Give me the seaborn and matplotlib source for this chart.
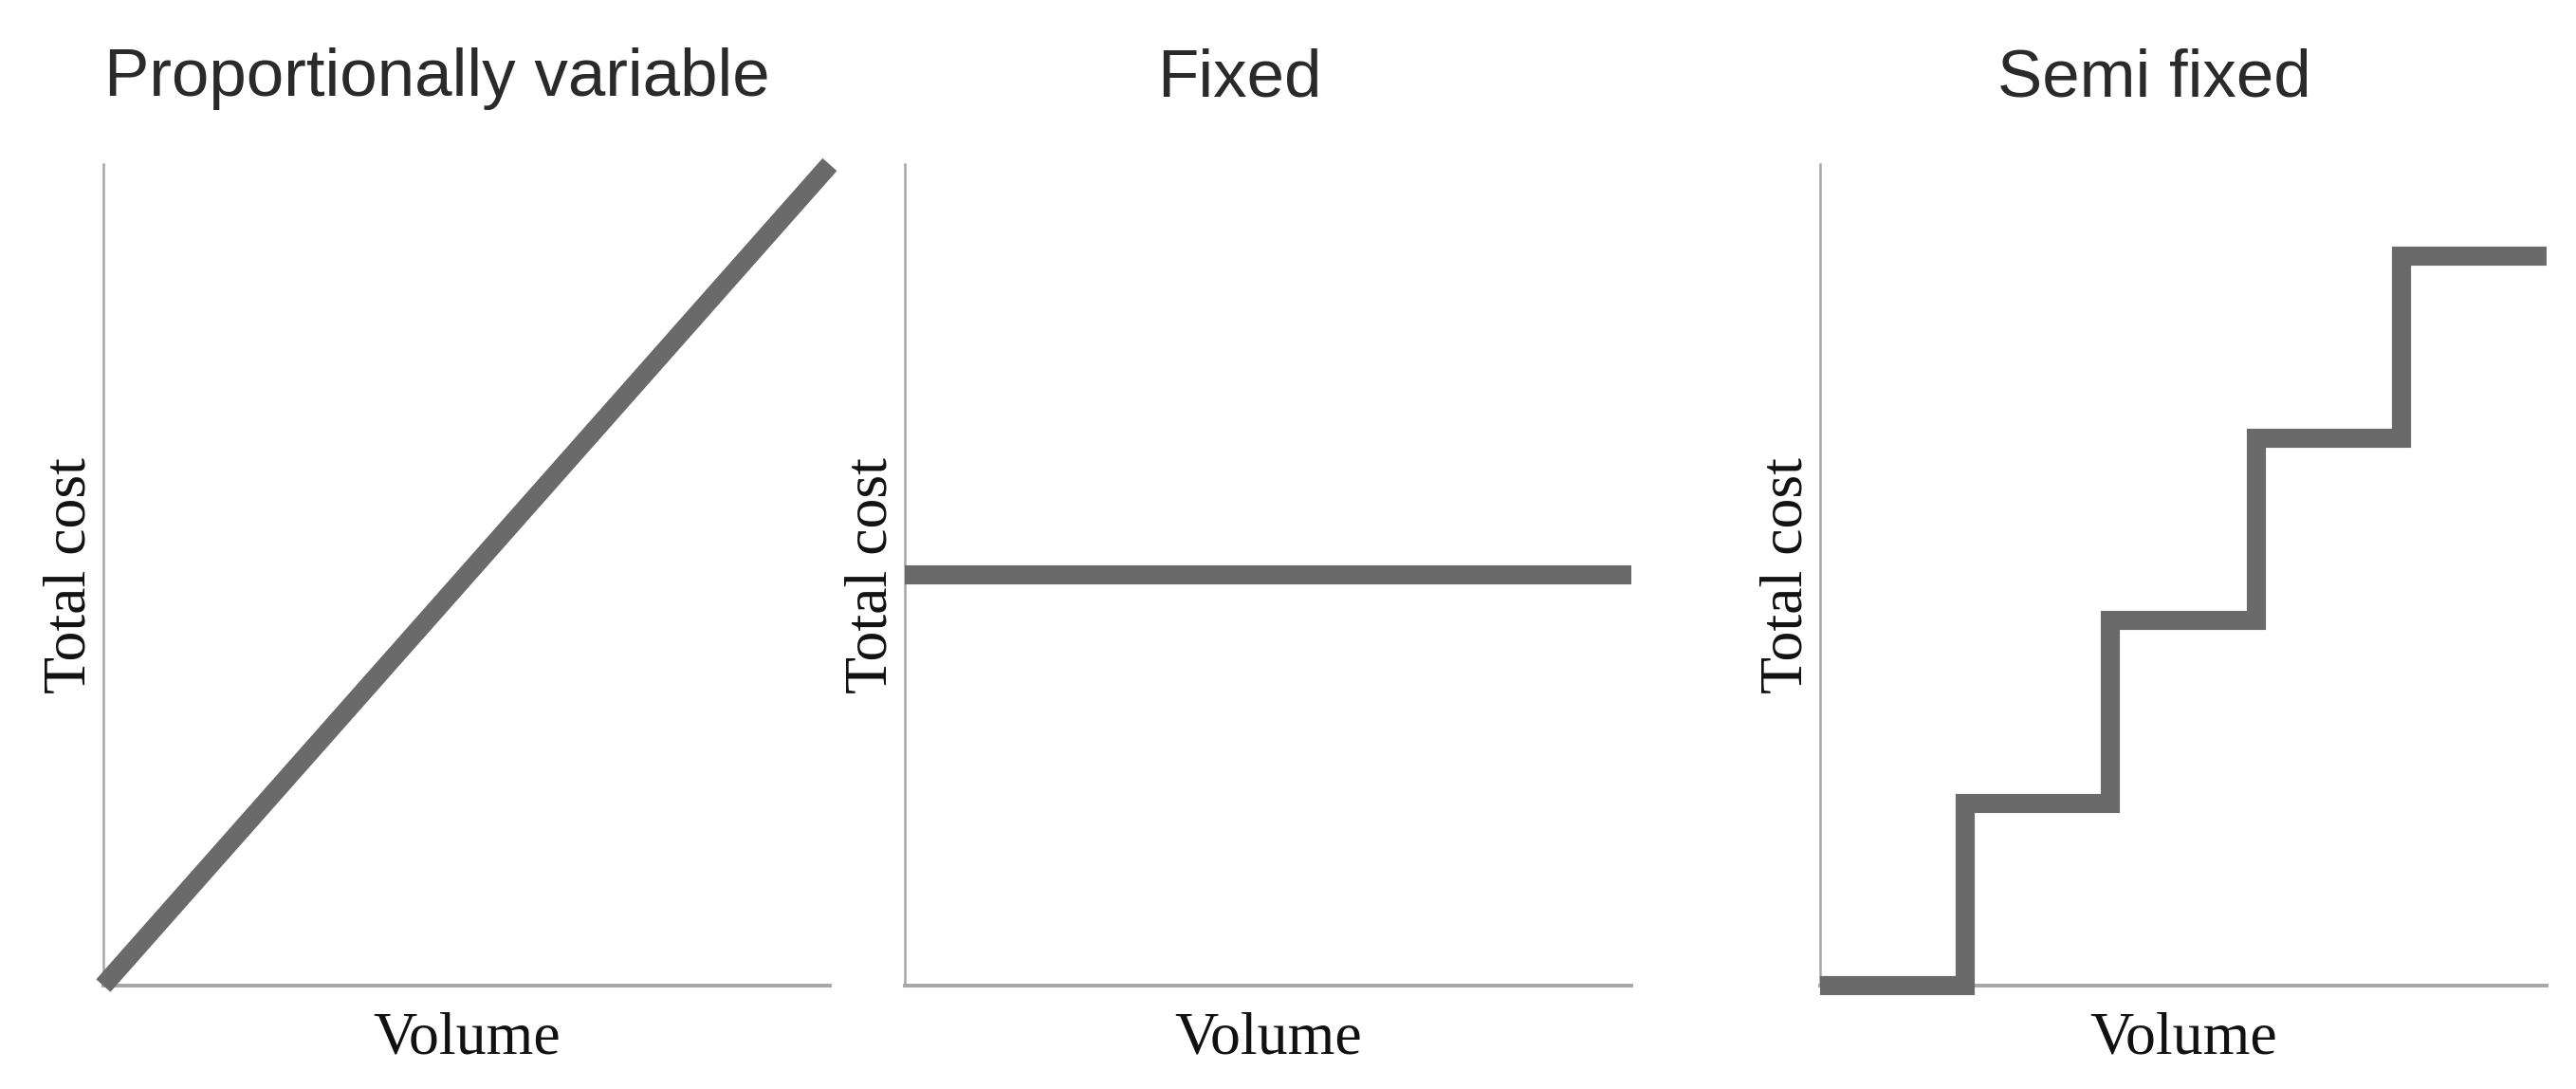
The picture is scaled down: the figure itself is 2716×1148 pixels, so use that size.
import matplotlib
matplotlib.use("Agg")
import matplotlib.pyplot as plt
import seaborn as sns
import pandas as pd

# ---- data ----
titles = ["Proportionally variable", "Fixed", "Semi fixed"]
x_label = "Volume"
y_label = "Total cost"

variable_x = [0, 1]
variable_y = [0, 1]

fixed_x = [0, 1]
fixed_y = [0.5, 0.5]

semi_x = [0, 1, 2, 3, 4, 5]
semi_y = [0, 1, 2, 3, 4, 4]

sns.set_theme(style="white")
plt.rcParams["font.family"] = ["Liberation Sans", "DejaVu Sans"]

fig = plt.figure(figsize=(27.16, 11.48), dpi=100)

line_color = "#6a6a6a"
spine_color = "#a6a6a6"
W = 0.282
positions = [0.0401, 0.3513, 0.7066]
axes = [fig.add_axes([p, 0.0949, W, 0.754]) for p in positions]

specs = [
    (variable_x, variable_y, (0, 1), (0, 1), None),
    (fixed_x, fixed_y, (0, 1), (0, 1), None),
    (semi_x, semi_y, (0, 5), (0, 4.5), "steps-post"),
]

for ax, title, (xs, ys, xl, yl, ds) in zip(axes, titles, specs):
    df = pd.DataFrame({"x": xs, "y": ys})
    kw = {}
    if ds:
        kw["drawstyle"] = ds
    sns.lineplot(data=df, x="x", y="y", ax=ax, color=line_color, linewidth=14.5,
                 solid_capstyle="butt", solid_joinstyle="miter", clip_on=False,
                 zorder=3, **kw)
    ax.set_xlim(*xl)
    ax.set_ylim(*yl)
    ax.set_xticks([])
    ax.set_yticks([])
    for s in ["top", "right"]:
        ax.spines[s].set_visible(False)
    ax.spines["left"].set_color(spine_color)
    ax.spines["left"].set_linewidth(1.8)
    ax.spines["bottom"].set_color(spine_color)
    ax.spines["bottom"].set_linewidth(2.8)
    ax.set_xlabel(x_label, family=["Liberation Serif", "DejaVu Serif"], fontsize=46,
                  color="#111111", labelpad=20)
    ax.set_ylabel(y_label, family=["Liberation Serif", "DejaVu Serif"], fontsize=46,
                  color="#111111", labelpad=4)
    ax.set_title(title, fontsize=51, color="#2a2a2a", x=0.46, pad=52)
    ax.patch.set_alpha(0)

fig.savefig("out.png", dpi=100, facecolor="white")
